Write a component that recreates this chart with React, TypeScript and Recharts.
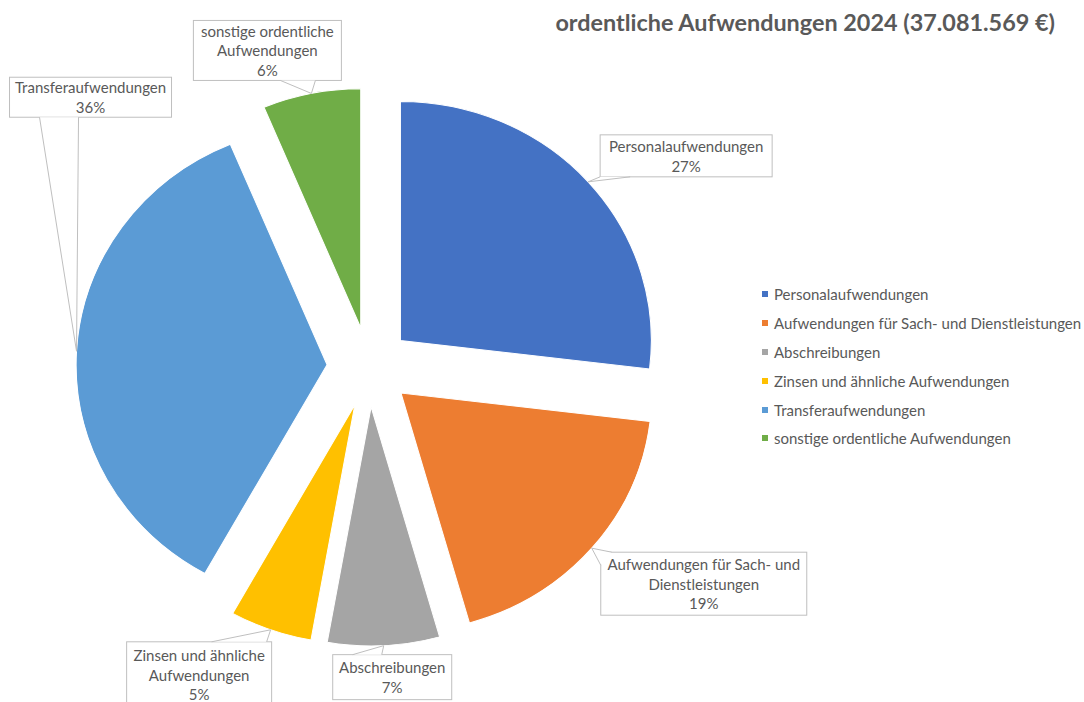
import React from 'react';
import { PieChart, Pie, Cell, Legend } from 'recharts';

const categories = [
  'Personalaufwendungen',
  'Aufwendungen für Sach- und Dienstleistungen',
  'Abschreibungen',
  'Zinsen und ähnliche Aufwendungen',
  'Transferaufwendungen',
  'sonstige ordentliche Aufwendungen',
];
// share of total (%)
const shares = [26.9, 18.7, 7.2, 5.3, 35.6, 6.3];
const colors = ['#4472C4', '#ED7D31', '#A5A5A5', '#FFC000', '#5B9BD5', '#70AD47'];
// callout text, broken as in the original
const calloutLines = [
  ['Personalaufwendungen'],
  ['Aufwendungen für Sach- und', 'Dienstleistungen'],
  ['Abschreibungen'],
  ['Zinsen und ähnliche', 'Aufwendungen'],
  ['Transferaufwendungen'],
  ['sonstige ordentliche', 'Aufwendungen'],
];
const title = 'ordentliche Aufwendungen 2024 (37.081.569 €)';

const W = 1084;
const H = 702;
const CX = 369;
const CY = 367;
const R = 239;
const SX = 1.05; // the original pie is slightly wider than tall
const EXPLODE = 40;
const FONT = 'Lato, "Open Sans", sans-serif';
const TEXT = '#595959';
const RAD = Math.PI / 180;

// callout boxes, offset from the slice's outer arc midpoint
const callouts = [
  { dx: 12, dy: -47, w: 172, h: 42, base: [[0, 42], [30, 42]] },
  { dx: 9, dy: 4, w: 206, h: 63, base: [[0, 13], [11, 0]] },
  { dx: -51, dy: 9, w: 119, h: 45, base: [[20, 0], [49, 0]] },
  { dx: -144, dy: 12, w: 145, h: 66, base: [[85, 0], [140, 0]] },
  { dx: -67, dy: -274, w: 162, h: 40, base: [[30, 40], [69, 40]] },
  { dx: -118, dy: -73, w: 148, h: 60, base: [[87, 60], [122, 60]] },
];

const data = categories.map((name, i) => ({ name, value: shares[i] }));
const total = shares.reduce((a, b) => a + b, 0);

// mid angle of each slice (clockwise from 12 o'clock)
const midAngles = shares.map((v, i) => {
  const before = shares.slice(0, i).reduce((a, b) => a + b, 0);
  return 90 - ((before + v / 2) / total) * 360;
});

const makeLabel = (idx: number) => (props: any) => {
  if (props.index !== idx) return null;
  const { cx, cy, midAngle, outerRadius, percent } = props;
  const ax = CX + (cx + outerRadius * Math.cos(-midAngle * RAD) - CX) * SX;
  const ay = cy + outerRadius * Math.sin(-midAngle * RAD);
  const c = callouts[idx];
  const bx = ax + c.dx;
  const by = ay + c.dy;
  const lines = [...calloutLines[idx], `${Math.round(percent * 100)}%`];
  const lh = 19.5;
  const top = by + c.h / 2 - ((lines.length - 1) * lh) / 2;
  const [p1, p2] = c.base;
  const pts = `${bx + p1[0]},${by + p1[1]} ${ax},${ay} ${bx + p2[0]},${by + p2[1]}`;
  return (
    <g>
      <rect x={bx} y={by} width={c.w} height={c.h} fill="#fff" stroke="#BFBFBF" strokeWidth={1} />
      <polygon points={pts} fill="#fff" stroke="none" />
      <polyline points={pts} fill="none" stroke="#BFBFBF" strokeWidth={1} />
      {lines.map((t, k) => (
        <text
          key={k}
          x={bx + c.w / 2}
          y={top + k * lh}
          textAnchor="middle"
          dominantBaseline="central"
          fontFamily={FONT}
          fontSize={15}
          fill={TEXT}
        >
          {t}
        </text>
      ))}
    </g>
  );
};

const LegendBox = () => (
  <div style={{ fontFamily: FONT, fontSize: 15, color: TEXT }}>
    {categories.map((c, i) => (
      <div key={c} style={{ display: 'flex', alignItems: 'center', height: 28.8, whiteSpace: 'nowrap' }}>
        <span style={{ width: 6, height: 6, background: colors[i], marginRight: 6, display: 'inline-block' }} />
        {c}
      </div>
    ))}
  </div>
);

export default function App() {
  return (
    <div style={{ position: 'absolute', left: 0, top: 0, width: W, height: H, background: '#fff', overflow: 'hidden' }}>
      <style>{`.recharts-pie-sector { transform: scaleX(${SX}); transform-origin: ${CX}px ${CY}px; }`}</style>
      <div
        style={{
          position: 'absolute',
          right: 29,
          top: 8,
          fontFamily: FONT,
          fontWeight: 700,
          fontSize: 23.4,
          color: TEXT,
          whiteSpace: 'nowrap',
          zIndex: 2,
        }}
      >
        {title}
      </div>
      <PieChart width={W} height={H} margin={{ top: 0, right: 0, bottom: 0, left: 0 }}>
        {midAngles.map((m, i) => (
          <Pie
            key={categories[i]}
            data={data}
            dataKey="value"
            nameKey="name"
            cx={CX + EXPLODE * Math.cos(m * RAD)}
            cy={CY - EXPLODE * Math.sin(m * RAD)}
            outerRadius={R}
            innerRadius={0}
            startAngle={90}
            endAngle={-270}
            isAnimationActive={false}
            labelLine={false}
            label={makeLabel(i)}
          >
            {data.map((d, k) => (
              <Cell
                key={d.name}
                fill={k === i ? colors[k] : 'none'}
                stroke={k === i ? '#fff' : 'none'}
                strokeWidth={k === i ? 1 : 0}
              />
            ))}
          </Pie>
        ))}
        <Legend
          content={() => <LegendBox />}
          wrapperStyle={{ left: 762, top: 280, width: 322, bottom: 'auto', right: 'auto' }}
        />
      </PieChart>
    </div>
  );
}
